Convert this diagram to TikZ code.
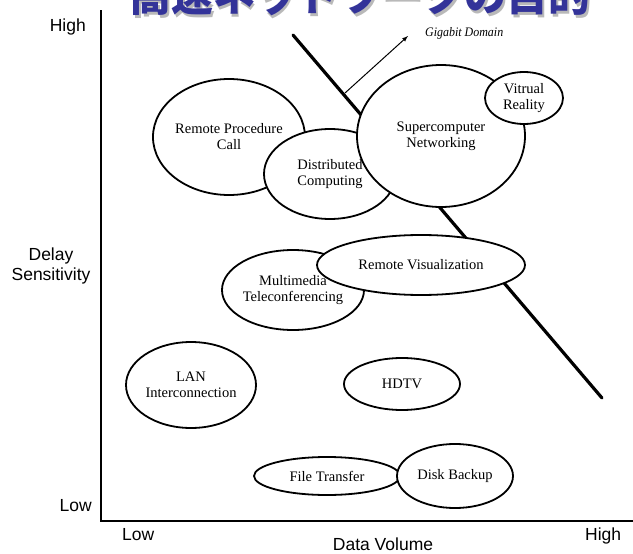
\documentclass[tikz,border=0pt]{standalone}
\usepackage{fontspec}
\setmainfont{Liberation Serif}
\setsansfont{Liberation Sans}
\newfontfamily\jpfont{Noto Sans CJK JP}
\usetikzlibrary{arrows,positioning,shapes.geometric}
\definecolor{titleblue}{RGB}{51,51,153}
\definecolor{titleshade}{RGB}{185,185,185}

\begin{document}
\begin{tikzpicture}[x=1pt, y=-1pt, every node/.style={inner sep=0pt},
    blob/.style={ellipse, draw, fill=white, line width=1.8pt, align=center, font=\fontsize{14.5}{16}\selectfont},
    axlabel/.style={font=\sffamily\fontsize{17.5}{20}\selectfont, align=center},
    ttlfont/.style={anchor=base, font=\jpfont\bfseries\fontsize{42}{42}\selectfont},
    divider/.style={line width=3.2pt, line cap=round}]
  \useasboundingbox (0,0) rectangle (633,554);
  \clip (0,0) rectangle (633,554);
  % title, cut at the top
  \node (ttlshade) at (362,14) [ttlfont, text=titleshade] {高速ネットワークの目的};
  \node (ttl) at (360,12) [ttlfont, text=titleblue] {高速ネットワークの目的};
  % axes
  \coordinate (ytop) at (101,10);
  \coordinate (orig) at (101,521);
  \coordinate (xend) at (640,521);
  \draw[line width=1.7pt] (ytop) -- (orig) -- (xend);
  \node (yhigh) at (86,31) [axlabel, anchor=base east] {High};
  \node (ylow) at (92,511) [axlabel, anchor=base east] {Low};
  \node (ylab) at (51,266) [axlabel] {Delay\\Sensitivity};
  \node (xlow) at (122,540) [axlabel, anchor=base west] {Low};
  \node (xhigh) at (585,540) [axlabel, anchor=base west] {High};
  \node (xlab) at (383,550) [axlabel, anchor=base] {Data Volume};
  % gigabit border
  \coordinate (divtop) at (293,35);
  \coordinate (divbot) at (602,398);
  \draw[divider] (divtop) -- (divbot);
  \coordinate (gtail) at (345,93);
  \coordinate (gtip) at (408,36);
  \draw[->, >=latex, line width=1pt] (gtail) -- (gtip);
  \node (giga) at (425,37) [anchor=base west, font=\itshape\fontsize{13}{15}\selectfont, xscale=.92] {Gigabit Domain};
  % applications
  \node (rpc) at (229,137) [blob, minimum width=142pt, minimum height=116pt] {Remote Procedure\\Call};
  \node (dc) at (330,174) [blob, minimum width=132pt, minimum height=90pt] {Distributed\\Computing};
  \node (sn) at (441,136) [blob, minimum width=168pt, minimum height=142pt] {Supercomputer\\Networking};
  \node (vr) at (524,98) [blob, minimum width=78pt, minimum height=52pt] {Vitrual\\Reality};
  \node (mt) at (293,290) [blob, minimum width=130pt, minimum height=80pt] {Multimedia\\Teleconferencing};
  \node (rv) at (421,265) [blob, minimum width=208pt, minimum height=60pt] {Remote Visualization};
  \node (lan) at (191,385) [blob, minimum width=130pt, minimum height=86pt] {LAN\\Interconnection};
  \node (hdtv) at (402,384) [blob, minimum width=116pt, minimum height=52pt] {HDTV};
  \node (ft) at (327,476) [blob, minimum width=146pt, minimum height=38pt] {File Transfer};
  \node (db) at (455,476) [blob, minimum width=116pt, minimum height=64pt] {Disk Backup};
\end{tikzpicture}
\end{document}
